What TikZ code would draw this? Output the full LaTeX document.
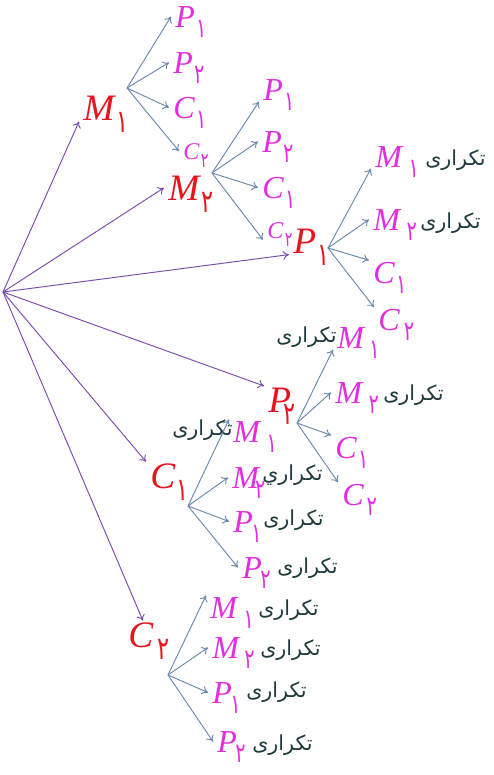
\documentclass[tikz,border=0pt]{standalone}
\usepackage{fontspec}
\setmainfont{Liberation Serif}
\newfontfamily\farsi[Script=Arabic]{DejaVu Sans}
\TeXXeTstate=1
\usetikzlibrary{arrows.meta}
\definecolor{lred}{HTML}{E8141E}
\definecolor{lmag}{HTML}{E22EE0}
\definecolor{ltxt}{HTML}{1E3A3C}
\definecolor{lpur}{HTML}{7A4AAA}
\definecolor{lblu}{HTML}{6A88AE}
\newcommand{\sym}[3][1pt]{\textit{#2}\kern#1\smash{\raisebox{-0.34em}{\scalebox{0.6}[0.85]{\farsi #3}}}}
\newcommand{\rep}{\farsi\beginR تکراری\endR}
\newcommand{\repy}{\farsi\beginR تکراري\endR}
\tikzset{
  mainlbl/.style={text=lred, font=\fontsize{28}{28}\selectfont, anchor=base west, inner xsep=3pt, inner ysep=1pt},
  sublbl/.style={text=lmag, font=\fontsize{24}{24}\selectfont, anchor=base west, inner xsep=3pt, inner ysep=1pt},
  smalllbl/.style={text=lmag, font=\fontsize{18}{18}\selectfont, anchor=base west, inner xsep=3pt, inner ysep=1pt},
  replbl/.style={text=ltxt, font=\fontsize{15.5}{15.5}\selectfont, inner sep=0pt},
  rootarr/.style={draw=lpur, line width=0.7pt, -{To[length=4.5pt,width=6.5pt]}},
  subarr/.style={draw=lblu, line width=0.7pt, -{To[length=4.5pt,width=6.5pt]}}
}
\begin{document}
\begin{tikzpicture}[x=0.75pt,y=-0.75pt]
                    \useasboundingbox (0,0) rectangle (493,775);
                    \coordinate (root) at (3,292);
                    \node[mainlbl] (M1) at (79,120) {\sym[0pt]{M}{۱}};
                    \node[mainlbl] (M2) at (164,200) {\sym[0pt]{M}{۲}};
                    \node[mainlbl] (P1) at (289,253) {\sym{P}{۱}};
                    \node[mainlbl] (P2) at (264,412) {\sym[-6pt]{P}{۲}};
                    \node[mainlbl] (C1) at (146,488) {\sym{C}{۱}};
                    \node[mainlbl] (C2) at (124,647) {\sym[3pt]{C}{۲}};
                    \draw[rootarr] (root) -- (M1.south west);
                    \draw[rootarr] (root) -- (M2.west);
                    \draw[rootarr] (root) -- (P1.south west);
                    \draw[rootarr] (root) -- (P2.north west);
                    \draw[rootarr] (root) -- (C1.north west);
                    \draw[rootarr] (root) -- (C2);
                    \coordinate (m1b) at (127,88);
                    \node[sublbl] (m1p1) at (171,27) {\sym{P}{۱}};
                    \node[sublbl] (m1p2) at (169,73) {\sym{P}{۲}};
                    \node[sublbl] (m1c1) at (169,118) {\sym{C}{۱}};
                    \node[smalllbl] (m1c2) at (179,159) {\sym{C}{۲}};
                    \draw[subarr] (m1b) -- (m1p1.west);
                    \draw[subarr] (m1b) -- (m1p2.west);
                    \draw[subarr] (m1b) -- (m1c1.west);
                    \draw[subarr] (m1b) -- (m1c2.west);
                    \coordinate (m2b) at (212,173);
                    \node[sublbl] (m2p1) at (259,100) {\sym{P}{۱}};
                    \node[sublbl] (m2p2) at (258,152) {\sym{P}{۲}};
                    \node[sublbl] (m2c1) at (258,198) {\sym{C}{۱}};
                    \node[smalllbl] (m2c2) at (263,238) {\sym{C}{۲}};
                    \draw[subarr] (m2b) -- (m2p1.south west);
                    \draw[subarr] (m2b) -- (m2p2.west);
                    \draw[subarr] (m2b) -- (m2c1.west);
                    \draw[subarr] (m2b) -- (m2c2.south west);
                    \coordinate (p1b) at (328,248);
                    \node[sublbl] (p1m1) at (371,167) {\sym[4pt]{M}{۱}};
                    \node[sublbl] (p1m2) at (369,230) {\sym[4pt]{M}{۲}};
                    \node[sublbl] (p1c1) at (369,283) {\sym{C}{۱}};
                    \node[sublbl] (p1c2) at (374,330) {\sym[3pt]{C}{۲}};
                    \node[replbl, anchor=base west] (p1m1r) at (425,165) {\rep};
                    \node[replbl, anchor=base west] (p1m2r) at (420,228) {\rep};
                    \draw[subarr] (p1b) -- (p1m1.south west);
                    \draw[subarr] (p1b) -- (p1m2.west);
                    \draw[subarr] (p1b) -- (p1c1.north west);
                    \draw[subarr] (p1b) -- (p1c2.north west);
                    \coordinate (p2b) at (297,423);
                    \node[sublbl] (p2m1) at (333,348) {\sym[3pt]{M}{۱}};
                    \node[sublbl] (p2m2) at (331,403) {\sym[4pt]{M}{۲}};
                    \node[sublbl] (p2c1) at (331,458) {\sym{C}{۱}};
                    \node[sublbl] (p2c2) at (338,505) {\sym[2pt]{C}{۲}};
                    \node[replbl, anchor=base east] (p2m1r) at (337,342) {\rep};
                    \node[replbl, anchor=base west] (p2m2r) at (383,400) {\rep};
                    \draw[subarr] (p2b) -- (p2m1.south west);
                    \draw[subarr] (p2b) -- (p2m2.west);
                    \draw[subarr] (p2b) -- (p2c1.north west);
                    \draw[subarr] (p2b) -- (p2c2.north west);
                    \coordinate (c1b) at (188,506);
                    \node[sublbl] (c1m1) at (229,442) {\sym[4pt]{M}{۱}};
                    \node[sublbl] (c1m2) at (228,488) {\sym[-4pt]{M}{۲}};
                    \node[sublbl] (c1p1) at (229,532) {\sym[-1pt]{P}{۱}};
                    \node[sublbl] (c1p2) at (238,578) {\sym[-1pt]{P}{۲}};
                    \node[replbl, anchor=base east] (c1m1r) at (233,435) {\rep};
                    \node[replbl, anchor=base west] (c1m2r) at (262,480) {\repy};
                    \node[replbl, anchor=base west] (c1p1r) at (263,525) {\rep};
                    \node[replbl, anchor=base west] (c1p2r) at (277,573) {\rep};
                    \draw[subarr] (c1b) -- (c1m1.north west);
                    \draw[subarr] (c1b) -- (c1m2.west);
                    \draw[subarr] (c1b) -- (c1p1.west);
                    \draw[subarr] (c1b) -- (c1p2.west);
                    \coordinate (c2b) at (168,675);
                    \node[sublbl] (c2m1) at (206,618) {\sym[4pt]{M}{۱}};
                    \node[sublbl] (c2m2) at (208,658) {\sym[3pt]{M}{۲}};
                    \node[sublbl] (c2p1) at (208,703) {\sym[-1pt]{P}{۱}};
                    \node[sublbl] (c2p2) at (213,752) {\sym[-1pt]{P}{۲}};
                    \node[replbl, anchor=base west] (c2m1r) at (258,615) {\rep};
                    \node[replbl, anchor=base west] (c2m2r) at (260,655) {\rep};
                    \node[replbl, anchor=base west] (c2p1r) at (246,697) {\rep};
                    \node[replbl, anchor=base west] (c2p2r) at (252,750) {\rep};
                    \draw[subarr] (c2b) -- (c2m1.north west);
                    \draw[subarr] (c2b) -- (c2m2.west);
                    \draw[subarr] (c2b) -- (c2p1.west);
                    \draw[subarr] (c2b) -- (c2p2.west);
\end{tikzpicture}
\end{document}
